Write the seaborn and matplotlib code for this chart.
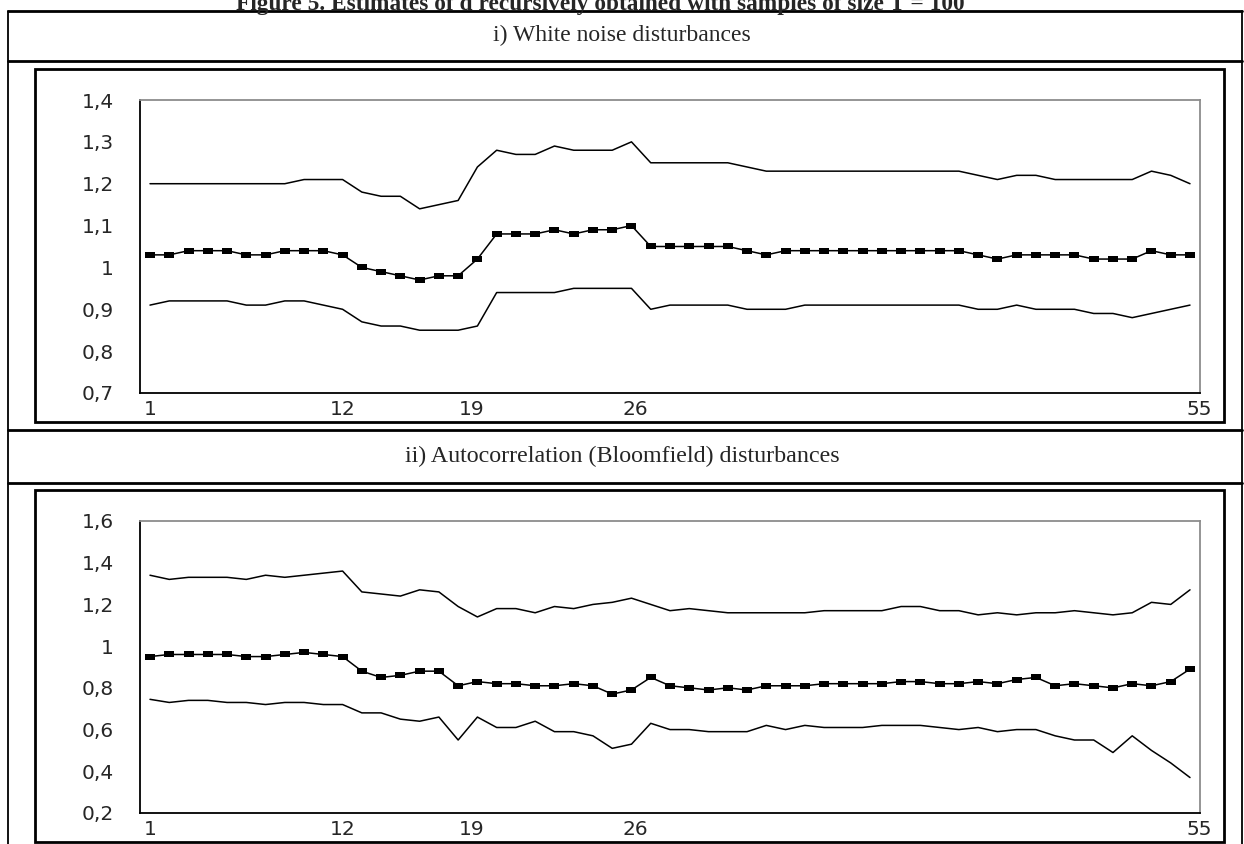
import matplotlib.pyplot as plt
import seaborn as sns
import pandas as pd
from matplotlib.lines import Line2D
from matplotlib.patches import Rectangle

# recursive sample index and the category labels shown on the x axis
sample = list(range(1, 56))
x_tick_pos = [1, 11, 17.7, 26.2, 55.5]
x_tick_lab = ['1', '12', '19', '26', '55']

# i) white noise disturbances
wn_upper = [1.20, 1.20, 1.20, 1.20, 1.20, 1.20, 1.20, 1.20, 1.21, 1.21, 1.21,
            1.18, 1.17, 1.17, 1.14, 1.15, 1.16, 1.24, 1.28, 1.27, 1.27, 1.29,
            1.28, 1.28, 1.28, 1.30, 1.25, 1.25, 1.25, 1.25, 1.25, 1.24, 1.23,
            1.23, 1.23, 1.23, 1.23, 1.23, 1.23, 1.23, 1.23, 1.23, 1.23, 1.22,
            1.21, 1.22, 1.22, 1.21, 1.21, 1.21, 1.21, 1.21, 1.23, 1.22, 1.20]
wn_d = [1.03, 1.03, 1.04, 1.04, 1.04, 1.03, 1.03, 1.04, 1.04, 1.04, 1.03,
        1.00, 0.99, 0.98, 0.97, 0.98, 0.98, 1.02, 1.08, 1.08, 1.08, 1.09,
        1.08, 1.09, 1.09, 1.10, 1.05, 1.05, 1.05, 1.05, 1.05, 1.04, 1.03,
        1.04, 1.04, 1.04, 1.04, 1.04, 1.04, 1.04, 1.04, 1.04, 1.04, 1.03,
        1.02, 1.03, 1.03, 1.03, 1.03, 1.02, 1.02, 1.02, 1.04, 1.03, 1.03]
wn_lower = [0.91, 0.92, 0.92, 0.92, 0.92, 0.91, 0.91, 0.92, 0.92, 0.91, 0.90,
            0.87, 0.86, 0.86, 0.85, 0.85, 0.85, 0.86, 0.94, 0.94, 0.94, 0.94,
            0.95, 0.95, 0.95, 0.95, 0.90, 0.91, 0.91, 0.91, 0.91, 0.90, 0.90,
            0.90, 0.91, 0.91, 0.91, 0.91, 0.91, 0.91, 0.91, 0.91, 0.91, 0.90,
            0.90, 0.91, 0.90, 0.90, 0.90, 0.89, 0.89, 0.88, 0.89, 0.90, 0.91]
wn_yticks = [0.7, 0.8, 0.9, 1.0, 1.1, 1.2, 1.3, 1.4]
wn_ylabels = ['0,7', '0,8', '0,9', '1', '1,1', '1,2', '1,3', '1,4']

# ii) autocorrelation (Bloomfield) disturbances
bl_upper = [1.34, 1.32, 1.33, 1.33, 1.33, 1.32, 1.34, 1.33, 1.34, 1.35, 1.36,
            1.26, 1.25, 1.24, 1.27, 1.26, 1.19, 1.14, 1.18, 1.18, 1.16, 1.19,
            1.18, 1.20, 1.21, 1.23, 1.20, 1.17, 1.18, 1.17, 1.16, 1.16, 1.16,
            1.16, 1.16, 1.17, 1.17, 1.17, 1.17, 1.19, 1.19, 1.17, 1.17, 1.15,
            1.16, 1.15, 1.16, 1.16, 1.17, 1.16, 1.15, 1.16, 1.21, 1.20, 1.27]
bl_d = [0.95, 0.96, 0.96, 0.96, 0.96, 0.95, 0.95, 0.96, 0.97, 0.96, 0.95,
        0.88, 0.85, 0.86, 0.88, 0.88, 0.81, 0.83, 0.82, 0.82, 0.81, 0.81,
        0.82, 0.81, 0.77, 0.79, 0.85, 0.81, 0.80, 0.79, 0.80, 0.79, 0.81,
        0.81, 0.81, 0.82, 0.82, 0.82, 0.82, 0.83, 0.83, 0.82, 0.82, 0.83,
        0.82, 0.84, 0.85, 0.81, 0.82, 0.81, 0.80, 0.82, 0.81, 0.83, 0.89]
bl_lower = [0.745, 0.73, 0.74, 0.74, 0.73, 0.73, 0.72, 0.73, 0.73, 0.72, 0.72,
            0.68, 0.68, 0.65, 0.64, 0.66, 0.55, 0.66, 0.61, 0.61, 0.64, 0.59,
            0.59, 0.57, 0.51, 0.53, 0.63, 0.60, 0.60, 0.59, 0.59, 0.59, 0.62,
            0.60, 0.62, 0.61, 0.61, 0.61, 0.62, 0.62, 0.62, 0.61, 0.60, 0.61,
            0.59, 0.60, 0.60, 0.57, 0.55, 0.55, 0.49, 0.57, 0.50, 0.44, 0.37]
bl_yticks = [0.2, 0.4, 0.6, 0.8, 1.0, 1.2, 1.4, 1.6]
bl_ylabels = ['0,2', '0,4', '0,6', '0,8', '1', '1,2', '1,4', '1,6']

W, H = 1244, 844

sns.set_style('white')
plt.rcParams['font.family'] = ['DejaVu Sans']

fig = plt.figure(figsize=(W / 100, H / 100), dpi=100)


def fx(x):
    return x / W


def fy(y):
    return 1 - y / H


def hline(y, lw):
    fig.add_artist(Line2D([fx(8), fx(1242)], [fy(y), fy(y)], lw=lw,
                          color='black', transform=fig.transFigure))


def vline(x, lw):
    fig.add_artist(Line2D([fx(x), fx(x)], [fy(11), fy(844)], lw=lw,
                          color='black', transform=fig.transFigure))


def box(top, bottom):
    fig.add_artist(Rectangle((fx(35), fy(bottom)), fx(1224) - fx(35),
                             fy(top) - fy(bottom), fill=False, lw=2,
                             edgecolor='black', transform=fig.transFigure))


# table frame
for y in [11, 61, 430, 483]:
    hline(y, 2)
vline(8, 1.3)
vline(1242, 1.3)
box(69, 422)
box(490, 842)

# the caption sits partly above the page edge, as in the scan
fig.text(fx(600), fy(10), 'Figure 5. Estimates of d recursively obtained with samples of size T = 100',
         ha='center', va='baseline', fontsize=16.8, fontweight='bold', family='Liberation Serif')
fig.text(fx(622), fy(35), 'i) White noise disturbances', ha='center', va='center',
         fontsize=17, family='Liberation Serif')
fig.text(fx(622), fy(456), 'ii) Autocorrelation (Bloomfield) disturbances', ha='center',
         va='center', fontsize=17.3, family='Liberation Serif')

rect_marker = [(-1, -0.6), (1, -0.6), (1, 0.6), (-1, 0.6), (-1, -0.6)]


def panel(top, bottom, upper, d, lower, yticks, ylabels):
    ax = fig.add_axes([fx(140), fy(bottom), fx(1200) - fx(140), fy(top) - fy(bottom)])
    df = pd.DataFrame({'sample': sample, 'upper': upper, 'd': d, 'lower': lower})
    sns.lineplot(data=df, x='sample', y='upper', ax=ax, color='black', lw=1.1)
    sns.lineplot(data=df, x='sample', y='lower', ax=ax, color='black', lw=1.1)
    sns.lineplot(data=df, x='sample', y='d', ax=ax, color='black', lw=1.1,
                 marker=rect_marker, markersize=6.8, markeredgewidth=0,
                 markerfacecolor='black')
    ax.set_xlim(1 - 10 / 19.26, 55 + 10 / 19.26)
    ax.set_ylim(yticks[0], yticks[-1])
    ax.set_yticks(yticks)
    ax.set_yticklabels(ylabels)
    ax.set_xticks(x_tick_pos)
    ax.set_xticklabels(x_tick_lab)
    ax.set_xlabel('')
    ax.set_ylabel('')
    ax.tick_params(axis='y', direction='out', length=8.6, width=1, color='black',
                   pad=10, labelsize=14.5)
    ax.tick_params(axis='x', length=0, pad=5, labelsize=14.5)
    for s in ['left', 'bottom']:
        ax.spines[s].set_color('black')
        ax.spines[s].set_linewidth(1.3)
    for s in ['top', 'right']:
        ax.spines[s].set_color('#8c8c8c')
        ax.spines[s].set_linewidth(1.3)
    return ax


panel(100, 393, wn_upper, wn_d, wn_lower, wn_yticks, wn_ylabels)
panel(521, 813, bl_upper, bl_d, bl_lower, bl_yticks, bl_ylabels)

fig.savefig('out.png', dpi=100)
